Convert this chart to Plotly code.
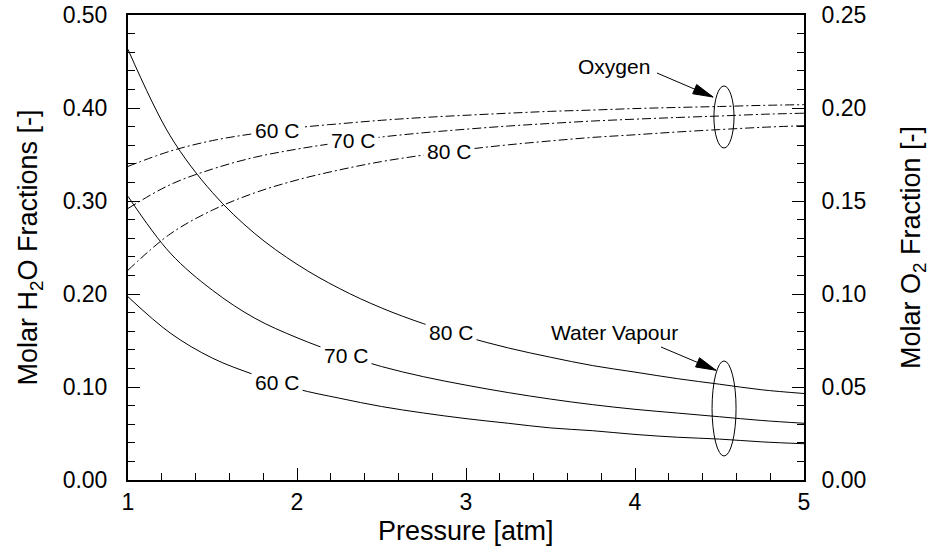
import plotly.graph_objects as go

# Pressure grid [atm]
pressure = [1.0, 1.25, 1.5, 1.75, 2.0, 2.25, 2.5, 2.75, 3.0, 3.25, 3.5, 3.75, 4.0, 4.25, 4.5, 4.75, 5.0]

# Molar H2O fraction (left axis)
h2o_80 = [0.463, 0.370, 0.309, 0.265, 0.232, 0.206, 0.185, 0.168, 0.154, 0.142, 0.132, 0.123, 0.116, 0.109, 0.103, 0.097, 0.093]
h2o_70 = [0.305, 0.244, 0.204, 0.174, 0.153, 0.136, 0.122, 0.111, 0.102, 0.094, 0.087, 0.081, 0.076, 0.072, 0.068, 0.064, 0.061]
h2o_60 = [0.197, 0.158, 0.131, 0.113, 0.098, 0.088, 0.079, 0.072, 0.066, 0.061, 0.056, 0.053, 0.049, 0.046, 0.044, 0.041, 0.039]

# Molar O2 fraction (right axis)
o2_60 = [0.1686, 0.1768, 0.1825, 0.1863, 0.1894, 0.1915, 0.1934, 0.1949, 0.1961, 0.1972, 0.1982, 0.1989, 0.1997, 0.2003, 0.2008, 0.2014, 0.2018]
o2_70 = [0.1460, 0.1588, 0.1672, 0.1735, 0.1779, 0.1814, 0.1844, 0.1867, 0.1886, 0.1903, 0.1917, 0.1930, 0.1940, 0.1949, 0.1957, 0.1966, 0.1972]
o2_80 = [0.1128, 0.1323, 0.1451, 0.1544, 0.1613, 0.1667, 0.1712, 0.1747, 0.1777, 0.1802, 0.1823, 0.1842, 0.1856, 0.1871, 0.1884, 0.1896, 0.1905]

# Curve labels: (text, pressure, series, axis)
labels = [
    ("60 C", 1.88, o2_60, "y2"),
    ("70 C", 2.33, o2_70, "y2"),
    ("80 C", 2.90, o2_80, "y2"),
    ("80 C", 2.91, h2o_80, "y"),
    ("70 C", 2.29, h2o_70, "y"),
    ("60 C", 1.88, h2o_60, "y"),
]

FONT = "Liberation Sans, Arial, sans-serif"


def interp(xs, ys, x):
    for i in range(len(xs) - 1):
        if xs[i] <= x <= xs[i + 1]:
            t = (x - xs[i]) / (xs[i + 1] - xs[i])
            return ys[i] + t * (ys[i + 1] - ys[i])
    return ys[-1]


fig = go.Figure()

line_solid = dict(color="black", width=1, shape="spline")
line_dd = dict(color="black", width=1, shape="spline", dash="9px,3px,2px,3px")

for ys in (h2o_80, h2o_70, h2o_60):
    fig.add_trace(go.Scatter(x=pressure, y=ys, mode="lines", line=line_solid,
                             yaxis="y", showlegend=False, hoverinfo="skip"))
for ys in (o2_60, o2_70, o2_80):
    fig.add_trace(go.Scatter(x=pressure, y=ys, mode="lines", line=line_dd,
                             yaxis="y2", showlegend=False, hoverinfo="skip"))

annotations = []
for text, px, series, ax in labels:
    annotations.append(dict(
        x=px, y=interp(pressure, series, px), xref="x", yref=ax,
        text=text, showarrow=False, bgcolor="white", borderpad=3,
        font=dict(family=FONT, size=21, color="black"),
    ))

annotations.append(dict(
    x=3.876, y=0.445, xref="x", yref="y", text="Oxygen", showarrow=False,
    font=dict(family=FONT, size=21, color="black"),
))
annotations.append(dict(
    x=3.876, y=0.159, xref="x", yref="y", text="Water Vapour", showarrow=False,
    font=dict(family=FONT, size=21, color="black"),
))
# x-axis title, placed just under the tick labels
annotations.append(dict(
    x=0.5, y=-0.109, xref="paper", yref="paper", text="Pressure [atm]", showarrow=False,
    yanchor="middle", font=dict(family=FONT, size=27, color="black"),
))

# Callout arrows (tail -> tip) and ellipses around each group of curves
arrows = [((4.130, 0.4376), (4.462, 0.4118)), ((4.154, 0.143), (4.479, 0.118))]
head_path = "M0,0 L-16.4,12.5 L-20.4,3.3 Z"

shapes = [
    dict(type="circle", xref="x", yref="y", x0=4.467, x1=4.586, y0=0.357, y1=0.4237,
         line=dict(color="black", width=1)),
    dict(type="circle", xref="x", yref="y", x0=4.456, x1=4.598, y0=0.0258, y1=0.128,
         line=dict(color="black", width=1)),
]
for (tx, ty), (hx, hy) in arrows:
    shapes.append(dict(type="line", xref="x", yref="y", x0=tx, y0=ty, x1=hx, y1=hy,
                       line=dict(color="black", width=1)))
    shapes.append(dict(type="path", xref="x", yref="y", xsizemode="pixel", ysizemode="pixel",
                       xanchor=hx, yanchor=hy, path=head_path,
                       fillcolor="black", line=dict(color="black", width=1)))

axis_common = dict(
    showline=True, linecolor="black", linewidth=2, showgrid=False, zeroline=False,
    ticks="inside", tickcolor="black", tickwidth=1, ticklen=12, automargin=False,
    tickfont=dict(family=FONT, size=23, color="black"),
)

fig.update_layout(
    width=935, height=556,
    margin=dict(l=128, r=131, t=15, b=76),
    paper_bgcolor="white", plot_bgcolor="white",
    xaxis=dict(
        range=[1, 5], dtick=1, tick0=1, mirror=True, ticklabelstandoff=0,
        minor=dict(dtick=0.2, ticks="inside", ticklen=7, tickcolor="black", tickwidth=1),
        **axis_common,
    ),
    yaxis=dict(
        range=[0, 0.5], dtick=0.1, tickformat=".2f", ticklabelstandoff=14,
        minor=dict(dtick=0.02, ticks="inside", ticklen=7, tickcolor="black", tickwidth=1),
        title=dict(text="Molar H<sub>2</sub>O Fractions [-]", font=dict(family=FONT, size=27, color="black"), standoff=17),
        **axis_common,
    ),
    yaxis2=dict(
        range=[0, 0.25], dtick=0.05, tickformat=".2f", overlaying="y", side="right",
        ticklabelstandoff=11,
        minor=dict(dtick=0.01, ticks="inside", ticklen=7, tickcolor="black", tickwidth=1),
        title=dict(text="Molar O<sub>2</sub> Fraction [-]", font=dict(family=FONT, size=27, color="black"), standoff=36),
        **axis_common,
    ),
    annotations=annotations,
    shapes=shapes,
)

fig.write_html("out.html")
